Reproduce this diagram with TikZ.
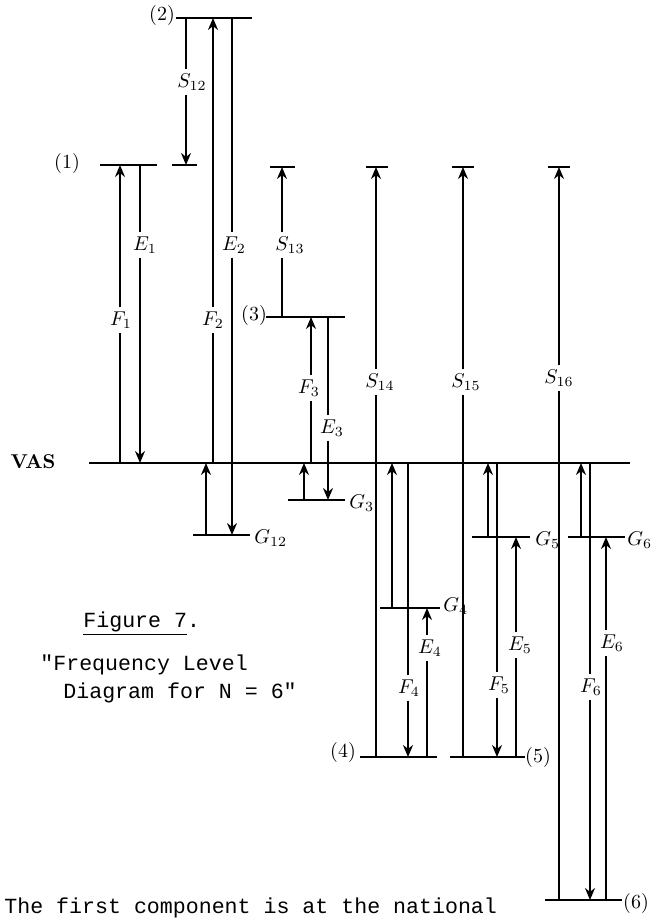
\documentclass[tikz,border=0pt]{standalone}
\usepackage{fontspec}
\newfontfamily\typewriter{Liberation Mono}
\usetikzlibrary{arrows.meta,positioning}

\begin{document}
\begin{tikzpicture}[
    x=0.5pt, y=-0.5pt,
    >={Stealth[length=6pt,width=5pt]},
    every node/.style={font=\normalsize},
    level/.style={line width=1.4pt},
    trans/.style={line width=0.9pt},
    lbl/.style={inner sep=2pt},
    tag/.style={inner sep=1pt},
    caption/.style={font=\typewriter\fontsize{10.8}{13}\selectfont, inner sep=0pt, anchor=base west}
]
\useasboundingbox (0,0) rectangle (652,920);

% frequency levels
\draw[level] (176,18) -- (252,18);
\draw[level] (100,165) -- (157,165);
\draw[level] (172,165) -- (197,165);
\draw[level] (270,167) -- (295,167);
\draw[level] (366,167) -- (388,167);
\draw[level] (452,167) -- (474,167);
\draw[level] (548,167) -- (570,167);
\draw[level] (266,317) -- (345,317);
\draw[level] (89,463) -- (630,463);
\draw[level] (193,535) -- (250,535);
\draw[level] (288,500) -- (345,500);
\draw[level] (380,608) -- (440,608);
\draw[level] (472,537) -- (530,537);
\draw[level] (568,537) -- (625,537);
\draw[level] (360,757) -- (437,757);
\draw[level] (450,757) -- (525,757);
\draw[level] (545,900) -- (622,900);

% level tags
\node[tag] (n1) at (67,163) {(1)};
\node[tag] (n2) at (162,16) {(2)};
\node[tag] (n3) at (254,315) {(3)};
\node[tag] (n4) at (343,752) {(4)};
\node[tag] (n5) at (538,757) {(5)};
\node[tag] (n6) at (636,903) {(6)};
\node[tag, font=\bfseries] (vas) at (33,462) {VAS};
\node[tag, anchor=west] (g12) at (252,538) {$G_{12}$};
\node[tag, anchor=west] (g3) at (347,503) {$G_3$};
\node[tag, anchor=west] (g4) at (441,606) {$G_4$};
\node[tag, anchor=west] (g5) at (533,540) {$G_5$};
\node[tag, anchor=west, inner sep=0.5pt] (g6) at (626,540) {$G_6$};

% transition points
\coordinate (F1s) at (120,463); \coordinate (F1t) at (120,165);
\coordinate (E1t) at (140,165); \coordinate (E1s) at (140,463);
\coordinate (S12t) at (186,18); \coordinate (S12s) at (186,165);
\coordinate (F2s) at (213,463); \coordinate (F2t) at (213,18);
\coordinate (E2t) at (232,18);  \coordinate (E2s) at (232,535);
\coordinate (G12s) at (206,535); \coordinate (G12t) at (206,463);
\coordinate (S13s) at (282,317); \coordinate (S13t) at (282,167);
\coordinate (F3s) at (311,463); \coordinate (F3t) at (311,317);
\coordinate (E3t) at (328,317); \coordinate (E3s) at (328,500);
\coordinate (G3s) at (304,500); \coordinate (G3t) at (304,463);
\coordinate (S14s) at (376,757); \coordinate (S14t) at (376,167);
\coordinate (S15s) at (463,757); \coordinate (S15t) at (463,167);
\coordinate (S16s) at (559,900); \coordinate (S16t) at (559,167);
\coordinate (G4s) at (392,608); \coordinate (G4t) at (392,463);
\coordinate (F4t) at (408,463); \coordinate (F4s) at (408,757);
\coordinate (E4s) at (427,757); \coordinate (E4t) at (427,608);
\coordinate (G5s) at (488,537); \coordinate (G5t) at (488,463);
\coordinate (F5t) at (497,463); \coordinate (F5s) at (497,757);
\coordinate (E5s) at (516,757); \coordinate (E5t) at (516,537);
\coordinate (G6s) at (581,537); \coordinate (G6t) at (581,463);
\coordinate (F6t) at (590,463); \coordinate (F6s) at (590,900);
\coordinate (E6s) at (606,900); \coordinate (E6t) at (606,537);

% transition labels
\node[lbl] (F1) at (121,320) {$F_1$};
\node[lbl] (E1) at (145,245) {$E_1$};
\node[lbl] (S12) at (192,82) {$S_{12}$};
\node[lbl] (F2) at (213,320) {$F_2$};
\node[lbl] (E2) at (234,245) {$E_2$};
\node[lbl] (S13) at (290,245) {$S_{13}$};
\node[lbl] (F3) at (309,388) {$F_3$};
\node[lbl] (E3) at (332,428) {$E_3$};
\node[lbl] (S14) at (380,382) {$S_{14}$};
\node[lbl] (S15) at (466,382) {$S_{15}$};
\node[lbl] (S16) at (559,378) {$S_{16}$};
\node[lbl] (F4) at (409,688) {$F_4$};
\node[lbl] (E4) at (430,648) {$E_4$};
\node[lbl] (F5) at (499,685) {$F_5$};
\node[lbl] (E5) at (520,645) {$E_5$};
\node[lbl] (F6) at (591,687) {$F_6$};
\node[lbl] (E6) at (612,643) {$E_6$};

% upward transitions
\draw[trans] (F1s) -- (F1s |- F1.south);  \draw[trans,->] (F1s |- F1.north) -- (F1t);
\draw[trans] (F2s) -- (F2s |- F2.south);  \draw[trans,->] (F2s |- F2.north) -- (F2t);
\draw[trans] (S13s) -- (S13s |- S13.south); \draw[trans,->] (S13s |- S13.north) -- (S13t);
\draw[trans] (F3s) -- (F3s |- F3.south);  \draw[trans,->] (F3s |- F3.north) -- (F3t);
\draw[trans] (S14s) -- (S14s |- S14.south); \draw[trans,->] (S14s |- S14.north) -- (S14t);
\draw[trans] (S15s) -- (S15s |- S15.south); \draw[trans,->] (S15s |- S15.north) -- (S15t);
\draw[trans] (S16s) -- (S16s |- S16.south); \draw[trans,->] (S16s |- S16.north) -- (S16t);
\draw[trans] (E4s) -- (E4s |- E4.south);  \draw[trans,->] (E4s |- E4.north) -- (E4t);
\draw[trans] (E5s) -- (E5s |- E5.south);  \draw[trans,->] (E5s |- E5.north) -- (E5t);
\draw[trans] (E6s) -- (E6s |- E6.south);  \draw[trans,->] (E6s |- E6.north) -- (E6t);

% downward transitions
\draw[trans] (E1t) -- (E1t |- E1.north);  \draw[trans,->] (E1t |- E1.south) -- (E1s);
\draw[trans] (S12t) -- (S12t |- S12.north); \draw[trans,->] (S12t |- S12.south) -- (S12s);
\draw[trans] (E2t) -- (E2t |- E2.north);  \draw[trans,->] (E2t |- E2.south) -- (E2s);
\draw[trans] (E3t) -- (E3t |- E3.north);  \draw[trans,->] (E3t |- E3.south) -- (E3s);
\draw[trans] (F4t) -- (F4t |- F4.north);  \draw[trans,->] (F4t |- F4.south) -- (F4s);
\draw[trans] (F5t) -- (F5t |- F5.north);  \draw[trans,->] (F5t |- F5.south) -- (F5s);
\draw[trans] (F6t) -- (F6t |- F6.north);  \draw[trans,->] (F6t |- F6.south) -- (F6s);

% G levels back to VAS
\draw[trans,->] (G12s) -- (G12t);
\draw[trans,->] (G3s) -- (G3t);
\draw[trans,->] (G4s) -- (G4t);
\draw[trans,->] (G5s) -- (G5t);
\draw[trans,->] (G6s) -- (G6t);

% caption
\node[caption] (fig) at (83,627) {\underline{Figure 7}.};
\node[caption] (title1) at (40,670) {"Frequency Level};
\node[caption] (title2) at (63,698) {Diagram for N = 6"};
\node[caption] (text) at (4,913) {The first component is at the national};

\end{tikzpicture}
\end{document}
